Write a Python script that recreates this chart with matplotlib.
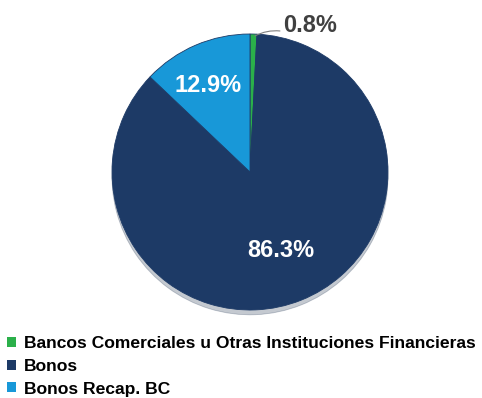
import matplotlib
matplotlib.use("Agg")
import matplotlib.pyplot as plt
import numpy as np

categories = ["Bancos Comerciales u Otras Instituciones Financieras", "Bonos", "Bonos Recap. BC"]
values = [0.8, 86.3, 12.9]
labels = ["0.8%", "86.3%", "12.9%"]
colors = ["#2bb04a", "#1d3a66", "#1898d8"]

W, H = 482, 398
fig = plt.figure(figsize=(W/100, H/100), dpi=100)
cx, cy, r = 250, 172, 138
ax = fig.add_axes([(cx - r)/W, (H - cy - r)/H, 2*r/W, 2*r/H])
wedges, _ = ax.pie(values, colors=colors, startangle=90, counterclock=False,
                   wedgeprops=dict(edgecolor="#1d3a66", linewidth=0.6),
                   shadow=dict(ox=0.0, oy=-0.025, shade=0.3, alpha=0.25))
ax.set_xlim(-1, 1); ax.set_ylim(-1, 1)
ax.set_aspect("equal")
ax.axis("off")

lab_font = dict(family=["Liberation Sans", "DejaVu Sans"], fontweight="bold", fontsize=17)
# inner labels
ax.text(-0.304, 0.58, labels[2], color="white", ha="center", va="baseline", **lab_font)
ax.text(0.225, -0.616, labels[1], color="white", ha="center", va="baseline", **lab_font)
# outer label with leader line
ax.text(0.239, 1.014, labels[0], color="#404040", ha="left", va="baseline", **lab_font)
ax.annotate("", xy=(0.036, 0.986), xytext=(0.217, 1.022),
            arrowprops=dict(arrowstyle="-", color="#7f7f7f", lw=0.8,
                            connectionstyle="arc3,rad=0.15",
                            shrinkA=0, shrinkB=0),
            annotation_clip=False)

leg = fig.legend(wedges, categories, loc="upper left",
                 bbox_to_anchor=(2/W, (H - 331)/H), frameon=False,
                 prop=dict(family="Liberation Sans", weight="bold", size=12.6),
                 handlelength=0.5, handleheight=0.5, handletextpad=0.45,
                 labelspacing=0.44, borderaxespad=0.0, borderpad=0.3)
for h in leg.legend_handles:
    h.set_edgecolor("none")

fig.savefig("out.png", dpi=100)
